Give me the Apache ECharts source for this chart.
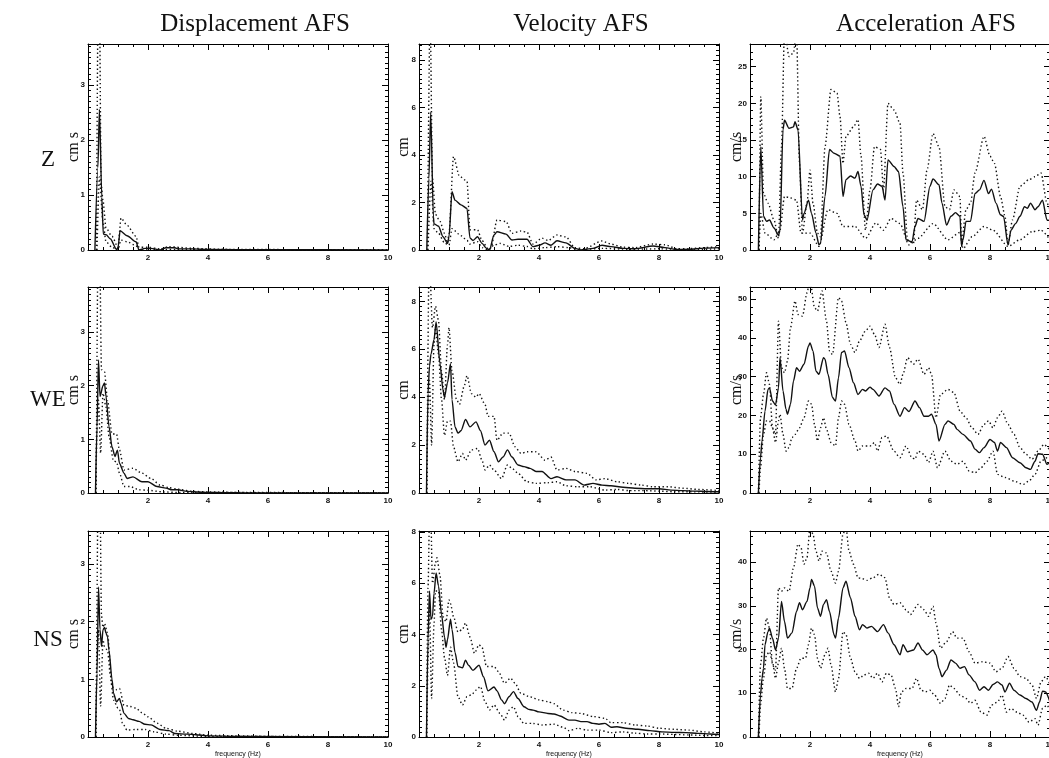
<!DOCTYPE html>
<html>
<head>
<meta charset="utf-8">
<title>AFS</title>
<script src="https://cdn.jsdelivr.net/npm/echarts@6.0.0/dist/echarts.min.js"></script>
<style>
  html, body { margin: 0; padding: 0; background: #fff; }
  #main { width: 1049px; height: 758px; }
</style>
</head>
<body>
<div id="main"></div>
<script>
// ---- data: [frequency (Hz), amplitude] ----
var dispZ_mean = [[0.23,0],[0.33,1.5],[0.38,2.56],[0.46,0.96],[0.51,0.29],[0.6,0.28],[0.75,0.2],[0.95,0.01],[1.0,0.04],[1.07,0.35],[1.3,0.26],[1.6,0.15],[1.7,0],[1.9,0.03],[2.1,0.03],[2.4,0],[2.6,0.04],[2.9,0.04],[3.0,0.02],[3.5,0.02],[4,0.01],[6,0.005],[10,0]];
var dispZ_up = [[0.28,0],[0.36,6],[0.44,1.2],[0.5,0.9],[0.6,0.4],[0.8,0.25],[1.0,0.05],[1.1,0.58],[1.3,0.45],[1.6,0.25],[1.7,0.05],[2.0,0.05],[2.4,0.02],[2.7,0.06],[3.5,0.03],[4.5,0.01],[10,0]];
var dispZ_lo = [[0.3,0],[0.38,1.33],[0.5,0.5],[0.6,0.15],[0.8,0.05],[1.0,0],[1.1,0.18],[1.3,0.15],[1.6,0.08],[1.7,0],[2.0,0.01],[10,0]];

var velZ_mean = [[0.26,0],[0.33,3],[0.39,5.8],[0.48,1.4],[0.5,1.1],[0.65,1.0],[0.8,0.56],[0.95,0.28],[1.0,0.56],[1.1,2.45],[1.2,2.1],[1.4,1.9],[1.6,1.75],[1.7,0.5],[1.8,0.4],[1.95,0.56],[2.1,0.28],[2.25,0.07],[2.35,0],[2.5,0.63],[2.6,0.77],[2.9,0.67],[3.1,0.42],[3.3,0.45],[3.6,0.45],[3.8,0.14],[4.0,0.2],[4.2,0.3],[4.4,0.2],[4.6,0.39],[4.9,0.3],[5.2,0.07],[5.4,0],[5.8,0.07],[6.1,0.2],[6.4,0.14],[6.8,0.07],[7.2,0.05],[7.8,0.17],[8.2,0.1],[8.6,0.02],[9.0,0.03],[9.5,0.08],[10,0.1]];
var velZ_up = [[0.28,0],[0.37,10],[0.45,3],[0.55,1.5],[0.7,1.2],[0.85,0.7],[0.95,0.3],[1.0,0.7],[1.15,3.93],[1.35,3.1],[1.6,2.9],[1.7,0.85],[1.95,0.85],[2.1,0.4],[2.3,0.05],[2.4,0.1],[2.6,1.26],[2.9,1.2],[3.1,0.7],[3.4,0.8],[3.6,0.75],[3.8,0.25],[4.1,0.5],[4.3,0.4],[4.6,0.63],[4.9,0.55],[5.2,0.1],[5.5,0.05],[6.1,0.38],[6.4,0.25],[6.8,0.12],[7.2,0.1],[7.8,0.25],[8.2,0.22],[8.6,0.05],[9.0,0.06],[9.5,0.1],[10,0.14]];
var velZ_lo = [[0.3,0],[0.4,2.9],[0.5,0.9],[0.65,0.7],[0.85,0.3],[1.0,0.2],[1.1,0.9],[1.4,0.6],[1.6,0.4],[1.7,0.25],[1.95,0.35],[2.1,0.1],[2.3,0],[2.5,0.2],[2.7,0.28],[3.0,0.15],[3.3,0.2],[3.6,0.15],[3.8,0.05],[4.2,0.1],[4.6,0.14],[5.0,0.1],[5.3,0],[6.1,0.07],[7,0.03],[8,0.05],[9,0.01],[10,0.05]];

var accZ_mean = [[0.28,0],[0.36,14.1],[0.45,4.6],[0.55,3.9],[0.65,4.1],[0.8,3.0],[0.95,2.0],[1.0,2.7],[1.1,16.4],[1.15,17.7],[1.3,16.6],[1.45,16.8],[1.5,17.5],[1.6,16.4],[1.75,4.1],[1.8,5.0],[1.95,6.8],[2.05,5.0],[2.2,2.3],[2.3,0.7],[2.35,0.9],[2.5,7.3],[2.65,13.7],[2.8,13.2],[3.0,12.8],[3.1,7.3],[3.2,9.6],[3.35,10.1],[3.5,9.8],[3.6,10.7],[3.7,8.7],[3.8,4.8],[3.9,4.1],[4.1,8.2],[4.25,9.0],[4.4,8.7],[4.5,6.8],[4.6,12.3],[4.8,11.4],[4.95,10.7],[5.1,5.9],[5.2,1.4],[5.4,1.1],[5.5,3.2],[5.6,4.3],[5.8,3.9],[6.0,8.7],[6.1,9.7],[6.3,8.9],[6.4,6.4],[6.55,3.4],[6.7,4.6],[6.85,5.1],[7.0,4.6],[7.05,0.5],[7.1,1.4],[7.2,3.9],[7.35,3.9],[7.5,7.7],[7.65,8.2],[7.8,9.5],[7.95,7.7],[8.05,8.3],[8.2,6.4],[8.35,4.8],[8.45,4.6],[8.6,0.7],[8.7,2.7],[8.85,3.6],[9.0,4.6],[9.15,5.9],[9.25,5.7],[9.35,6.4],[9.5,5.5],[9.6,5.9],[9.75,6.8],[9.9,4.1],[10,4.0]];
var accZ_up = [[0.3,0],[0.36,20.9],[0.45,7.7],[0.6,6.4],[0.8,4.1],[0.95,1.6],[1.05,14.1],[1.15,30],[1.3,26.4],[1.45,26.9],[1.55,30],[1.65,11.8],[1.75,2.3],[1.9,6.4],[2.0,10.9],[2.1,6.4],[2.25,2.3],[2.35,1.8],[2.5,14.1],[2.7,21.9],[2.9,21.4],[3.0,18.2],[3.1,11.8],[3.2,15.5],[3.45,16.8],[3.6,17.8],[3.7,12.8],[3.85,2.7],[4.0,8.2],[4.15,14.1],[4.35,13.7],[4.45,8.2],[4.6,20.0],[4.8,19.1],[5.0,17.3],[5.1,10.5],[5.25,1.4],[5.45,0.9],[5.55,6.8],[5.75,5.5],[5.9,10.9],[6.1,15.9],[6.3,14.1],[6.5,5.9],[6.65,5.5],[6.8,8.2],[7.0,7.3],[7.05,0.9],[7.2,5.5],[7.35,6.4],[7.5,10.5],[7.8,15.5],[8.0,12.8],[8.15,11.8],[8.35,7.3],[8.5,4.6],[8.6,0.7],[8.75,4.1],[9.0,8.7],[9.3,9.6],[9.5,10.0],[9.7,10.5],[9.9,6.4],[10,5.5]];
var accZ_lo = [[0.3,0],[0.36,5.0],[0.5,2.3],[0.8,1.4],[1.0,2.7],[1.15,7.3],[1.35,7.1],[1.55,6.8],[1.7,2.3],[2.0,2.3],[2.3,0.5],[2.6,5.5],[2.9,5.0],[3.1,3.2],[3.5,3.2],[3.85,1.6],[4.2,3.7],[4.45,2.7],[4.7,4.3],[5.0,3.6],[5.3,0.7],[5.6,1.6],[6.1,3.6],[6.6,1.4],[7.0,2.4],[7.1,0.2],[7.4,1.8],[7.8,3.2],[8.1,2.7],[8.6,0.5],[9.0,1.4],[9.4,2.5],[9.7,2.7],[10,1.4]];

var dispWE_mean = [[0.25,0],[0.3,1.24],[0.35,2.48],[0.4,1.8],[0.5,2.0],[0.55,2.05],[0.6,1.8],[0.7,1.24],[0.8,0.86],[0.9,0.68],[0.98,0.8],[1.05,0.55],[1.2,0.37],[1.3,0.27],[1.5,0.3],[1.8,0.21],[2.0,0.21],[2.3,0.12],[2.6,0.09],[2.8,0.06],[3.0,0.06],[3.3,0.03],[3.6,0.02],[4,0.01],[5,0.005],[10,0]];
var dispWE_up = [[0.27,0],[0.36,6],[0.45,2.3],[0.55,2.26],[0.65,1.73],[0.8,1.1],[0.95,1.1],[1.05,0.8],[1.2,0.43],[1.5,0.46],[1.8,0.37],[2.1,0.27],[2.4,0.15],[2.7,0.1],[3.0,0.07],[3.5,0.03],[4,0.02],[5,0.01],[10,0]];
var dispWE_lo = [[0.26,0],[0.3,1.2],[0.35,1.73],[0.42,0.74],[0.5,1.86],[0.6,1.6],[0.7,1.05],[0.85,0.6],[0.95,0.58],[1.05,0.37],[1.2,0.12],[1.4,0.12],[1.7,0.06],[2.0,0.05],[2.5,0.02],[3,0.01],[10,0]];

var velWE_mean = [[0.25,0],[0.3,4.15],[0.35,5.3],[0.4,5.8],[0.5,6.4],[0.57,7.14],[0.7,5.4],[0.8,4.3],[0.85,4.0],[0.95,4.6],[1.05,5.4],[1.1,3.9],[1.2,2.76],[1.3,2.5],[1.4,2.6],[1.55,3.07],[1.7,2.76],[1.9,2.97],[2.05,2.6],[2.2,2.0],[2.35,2.2],[2.5,1.72],[2.65,1.3],[2.8,1.5],[2.95,1.8],[3.1,1.5],[3.3,1.17],[3.5,1.1],[3.7,1.03],[3.9,0.9],[4.1,0.9],[4.4,0.6],[4.6,0.68],[4.9,0.55],[5.2,0.55],[5.5,0.33],[5.8,0.4],[6.1,0.33],[6.4,0.3],[6.8,0.24],[7.2,0.2],[7.6,0.18],[8.0,0.18],[8.4,0.12],[8.8,0.1],[9.2,0.08],[9.6,0.06],[10,0.05]];
var velWE_up = [[0.26,0],[0.34,10],[0.45,6.9],[0.55,7.8],[0.65,7.2],[0.75,5.1],[0.85,3.9],[0.95,6.2],[1.0,6.9],[1.1,5.1],[1.25,3.9],[1.35,3.7],[1.5,4.43],[1.6,4.9],[1.75,4.15],[1.9,4.0],[2.0,4.15],[2.2,3.7],[2.3,3.2],[2.5,3.2],[2.6,2.2],[2.8,2.5],[3.0,2.5],[3.2,1.93],[3.4,1.65],[3.6,1.72],[3.9,1.72],[4.2,1.37],[4.4,1.5],[4.6,0.96],[4.9,1.03],[5.2,0.9],[5.6,0.82],[5.9,0.55],[6.2,0.6],[6.6,0.47],[7.0,0.4],[7.4,0.33],[7.8,0.26],[8.3,0.26],[8.8,0.2],[9.3,0.15],[10,0.1]];
var velWE_lo = [[0.26,0],[0.3,3.5],[0.35,4.7],[0.42,2.0],[0.5,6.2],[0.55,6.9],[0.65,5.8],[0.75,3.9],[0.85,2.4],[0.95,3.0],[1.05,3.0],[1.15,1.93],[1.3,1.3],[1.45,1.65],[1.55,1.37],[1.75,1.8],[1.95,1.86],[2.1,1.37],[2.2,0.96],[2.35,1.17],[2.5,0.96],[2.75,0.6],[2.95,1.17],[3.1,1.03],[3.3,0.82],[3.6,0.47],[3.9,0.4],[4.3,0.43],[4.6,0.47],[4.9,0.3],[5.3,0.26],[5.7,0.26],[6.2,0.12],[6.6,0.15],[7.0,0.1],[7.5,0.1],[8.0,0.08],[8.5,0.05],[9,0.05],[10,0.03]];

var accWE_mean = [[0.28,0],[0.35,9.1],[0.4,13.4],[0.5,21.1],[0.6,26.7],[0.65,27.1],[0.75,23.7],[0.85,22.7],[0.95,27.1],[1.0,34.9],[1.1,26.3],[1.2,21.6],[1.25,20.3],[1.35,22.9],[1.45,28.9],[1.55,32.3],[1.65,31.4],[1.8,33.2],[1.95,37.9],[2.0,38.7],[2.1,36.6],[2.2,31.4],[2.3,30.6],[2.45,34.9],[2.5,34.5],[2.6,30.6],[2.75,24.6],[2.85,23.7],[2.95,29.7],[3.05,36.2],[3.15,36.6],[3.3,32.3],[3.45,28.4],[3.6,25.4],[3.75,26.7],[3.85,26.3],[4.0,27.3],[4.1,26.7],[4.3,25.0],[4.5,27.1],[4.65,26.3],[4.8,22.9],[5.0,19.8],[5.15,22.0],[5.3,21.0],[5.5,23.7],[5.65,22.0],[5.8,19.8],[5.95,19.8],[6.05,20.3],[6.2,17.7],[6.3,13.4],[6.5,17.7],[6.6,18.6],[6.8,17.7],[6.9,16.4],[7.1,15.1],[7.35,13.4],[7.5,11.3],[7.65,10.4],[7.8,11.7],[8.0,13.8],[8.15,13.0],[8.25,10.8],[8.35,13.0],[8.55,11.7],[8.75,9.1],[9.0,7.8],[9.2,6.5],[9.35,6.1],[9.5,8.2],[9.6,10.1],[9.75,10.0],[9.9,7.4],[10,8.0]];
var accWE_up = [[0.28,0],[0.35,19.4],[0.45,25.4],[0.55,31.0],[0.65,28.0],[0.75,16.8],[0.85,15.1],[0.95,44.3],[1.05,32.3],[1.15,31.0],[1.25,34.0],[1.35,42.6],[1.5,49.5],[1.6,46.0],[1.75,45.6],[1.9,51.6],[2.0,55],[2.15,47.8],[2.25,46.9],[2.4,52.1],[2.55,44.3],[2.65,36.6],[2.75,35.7],[2.95,50.4],[3.05,49.5],[3.2,43.9],[3.35,38.3],[3.5,36.2],[3.65,39.2],[3.85,41.8],[4.0,43.0],[4.15,40.9],[4.3,37.5],[4.5,43.5],[4.65,37.5],[4.85,29.7],[5.0,28.0],[5.1,30.6],[5.25,34.9],[5.45,33.2],[5.6,34.5],[5.8,30.6],[5.95,32.3],[6.05,30.6],[6.2,19.4],[6.35,25.4],[6.6,26.7],[6.8,25.9],[7.0,21.1],[7.2,19.4],[7.4,16.8],[7.6,15.1],[7.8,17.7],[7.95,18.6],[8.1,16.8],[8.25,19.4],[8.4,21.1],[8.6,17.7],[8.8,15.1],[9.0,11.7],[9.2,10.0],[9.4,8.7],[9.6,10.8],[9.8,12.5],[10,11.0]];
var accWE_lo = [[0.3,0],[0.35,6.5],[0.45,15.1],[0.55,18.6],[0.65,18.6],[0.75,16.8],[0.85,13.0],[0.95,18.6],[1.0,20.3],[1.1,15.1],[1.2,10.8],[1.3,11.7],[1.4,14.3],[1.5,15.1],[1.65,16.8],[1.8,19.4],[1.95,23.7],[2.05,22.9],[2.15,17.7],[2.25,13.4],[2.35,16.8],[2.45,19.4],[2.55,16.4],[2.7,13.0],[2.85,12.1],[2.95,19.4],[3.05,23.7],[3.15,22.9],[3.3,17.7],[3.5,13.4],[3.6,10.8],[3.75,12.1],[4.0,12.1],[4.15,13.0],[4.25,10.8],[4.4,14.3],[4.55,14.7],[4.8,10.8],[5.0,9.1],[5.2,12.1],[5.4,9.1],[5.5,8.7],[5.6,10.8],[5.8,10.0],[5.95,7.8],[6.1,10.8],[6.25,6.5],[6.5,10.8],[6.7,8.2],[6.9,7.4],[7.1,8.2],[7.3,5.7],[7.5,5.2],[7.7,6.5],[7.9,8.2],[8.1,10.8],[8.25,4.8],[8.5,4.0],[8.8,3.1],[9.1,2.2],[9.3,3.1],[9.5,4.8],[9.7,8.2],[9.9,9.1],[10,9.0]];

var dispNS_mean = [[0.25,0],[0.3,1.1],[0.35,2.6],[0.4,1.86],[0.45,1.57],[0.5,1.86],[0.55,1.9],[0.6,1.8],[0.65,1.74],[0.7,1.5],[0.8,1.0],[0.85,0.76],[0.95,0.61],[1.05,0.67],[1.1,0.58],[1.2,0.41],[1.35,0.32],[1.5,0.3],[1.7,0.27],[1.9,0.22],[2.1,0.21],[2.4,0.13],[2.7,0.11],[2.9,0.06],[3.3,0.05],[3.6,0.04],[4,0.02],[5,0.01],[10,0]];
var dispNS_up = [[0.27,0],[0.37,6],[0.45,2.1],[0.5,1.9],[0.55,1.97],[0.65,1.8],[0.8,0.87],[0.95,0.82],[1.05,0.84],[1.2,0.55],[1.4,0.53],[1.6,0.5],[1.8,0.42],[2.0,0.35],[2.3,0.24],[2.6,0.15],[3.0,0.1],[3.5,0.06],[4,0.03],[5,0.02],[6,0.01],[10,0]];
var dispNS_lo = [[0.26,0],[0.3,1.4],[0.35,1.86],[0.42,0.53],[0.5,1.68],[0.55,1.57],[0.65,1.5],[0.75,1.05],[0.85,0.64],[1.0,0.5],[1.05,0.47],[1.15,0.24],[1.3,0.12],[1.6,0.13],[1.9,0.13],[2.2,0.09],[2.6,0.05],[3,0.03],[4,0.01],[10,0]];

var velNS_mean = [[0.25,0],[0.3,3.8],[0.35,5.7],[0.4,4.6],[0.45,4.7],[0.5,5.6],[0.57,6.4],[0.65,5.9],[0.75,4.8],[0.85,3.9],[0.9,3.5],[0.95,3.8],[1.05,4.6],[1.1,4.2],[1.2,3.3],[1.3,2.75],[1.45,2.7],[1.55,3.0],[1.65,2.8],[1.8,2.6],[2.0,2.8],[2.15,2.35],[2.3,1.8],[2.5,1.95],[2.6,1.8],[2.75,1.45],[2.85,1.3],[3.0,1.57],[3.15,1.77],[3.3,1.5],[3.5,1.18],[3.65,1.08],[3.8,1.05],[4.0,0.98],[4.3,0.92],[4.5,0.9],[4.7,0.82],[5.0,0.66],[5.2,0.66],[5.4,0.6],[5.6,0.6],[5.8,0.53],[6.0,0.5],[6.2,0.53],[6.4,0.38],[6.6,0.4],[6.9,0.34],[7.3,0.3],[7.7,0.25],[8.1,0.2],[8.5,0.18],[8.9,0.17],[9.3,0.14],[9.7,0.12],[10,0.1]];
var velNS_up = [[0.25,0],[0.3,5.8],[0.37,10],[0.45,6.0],[0.55,6.8],[0.6,7.0],[0.7,6.3],[0.8,4.7],[0.9,4.5],[1.0,5.35],[1.05,5.2],[1.15,4.7],[1.3,4.1],[1.45,4.2],[1.55,4.45],[1.7,3.9],[1.85,3.27],[2.0,3.6],[2.1,3.5],[2.25,2.75],[2.5,2.75],[2.65,2.55],[2.85,2.1],[3.05,2.3],[3.2,2.1],[3.4,1.7],[3.7,1.57],[4.0,1.45],[4.3,1.38],[4.5,1.3],[4.8,1.05],[5.1,0.95],[5.4,0.92],[5.8,0.8],[6.2,0.73],[6.4,0.56],[6.8,0.56],[7.2,0.47],[7.6,0.43],[8.0,0.34],[8.5,0.3],[9.0,0.27],[9.5,0.2],[10,0.15]];
var velNS_lo = [[0.26,0],[0.3,3.0],[0.35,5.2],[0.42,1.5],[0.5,4.4],[0.55,5.7],[0.65,5.7],[0.75,4.2],[0.85,3.1],[0.95,2.4],[1.05,3.5],[1.15,2.9],[1.3,1.57],[1.45,1.25],[1.6,1.57],[1.75,1.65],[1.9,1.83],[2.05,1.97],[2.2,1.38],[2.35,1.05],[2.5,1.25],[2.7,0.92],[2.85,0.66],[3.0,1.05],[3.15,1.18],[3.3,0.8],[3.5,0.53],[3.8,0.53],[4.1,0.47],[4.5,0.5],[4.8,0.38],[5.0,0.25],[5.3,0.34],[5.6,0.27],[6.0,0.27],[6.4,0.17],[6.8,0.2],[7.2,0.15],[7.6,0.12],[8.0,0.12],[8.5,0.1],[9,0.08],[9.5,0.06],[10,0.05]];

var accNS_mean = [[0.28,0],[0.35,9.6],[0.4,13.4],[0.45,15.7],[0.5,21.1],[0.6,24.1],[0.65,24.9],[0.75,22.6],[0.85,19.9],[0.95,22.6],[1.05,31.0],[1.15,26.4],[1.25,22.6],[1.4,23.8],[1.55,28.7],[1.65,30.7],[1.75,29.1],[1.9,31.0],[2.0,34.1],[2.05,36.0],[2.15,34.5],[2.25,29.5],[2.35,27.6],[2.45,30.3],[2.55,31.4],[2.65,28.7],[2.8,23.4],[2.85,22.6],[2.95,27.2],[3.1,34.1],[3.2,35.6],[3.35,31.8],[3.5,27.6],[3.65,24.5],[3.75,25.7],[3.9,24.9],[4.05,25.3],[4.25,24.1],[4.45,25.7],[4.6,23.8],[4.8,21.1],[5.0,18.8],[5.1,21.1],[5.25,19.5],[5.45,19.9],[5.6,21.5],[5.75,19.9],[5.9,18.8],[6.1,19.9],[6.2,18.8],[6.3,15.7],[6.4,13.8],[6.55,15.3],[6.7,17.6],[6.85,16.9],[7.0,15.7],[7.15,16.1],[7.3,14.2],[7.5,12.6],[7.65,10.7],[7.8,11.5],[7.95,10.7],[8.1,12.0],[8.25,12.6],[8.4,11.9],[8.5,10.3],[8.65,12.3],[8.8,10.7],[9.0,9.6],[9.2,8.8],[9.4,8.0],[9.55,6.1],[9.65,8.0],[9.75,10.5],[9.85,10.3],[10,8.0]];
var accNS_up = [[0.28,0],[0.35,16.5],[0.45,22.6],[0.55,27.2],[0.65,24.9],[0.75,16.5],[0.85,15.3],[0.95,34.1],[1.05,33.3],[1.15,34.1],[1.3,33.3],[1.45,38.7],[1.6,44.1],[1.7,43.3],[1.8,39.5],[1.9,41.0],[2.0,48],[2.1,46.4],[2.2,42.5],[2.3,40.2],[2.4,42.5],[2.55,42.1],[2.7,37.9],[2.85,35.2],[2.95,37.9],[3.1,46.4],[3.2,48],[3.3,42.5],[3.45,39.5],[3.6,36.4],[3.75,36.2],[3.9,35.8],[4.1,36.4],[4.3,37.2],[4.5,36.4],[4.65,31.8],[4.8,30.3],[5.0,30.7],[5.2,29.1],[5.35,28.0],[5.6,30.3],[5.8,29.1],[5.95,27.6],[6.1,29.9],[6.2,26.1],[6.35,20.3],[6.55,21.8],[6.75,24.1],[6.9,22.6],[7.1,22.6],[7.3,19.5],[7.5,16.9],[7.75,17.2],[8.0,16.9],[8.2,14.9],[8.4,15.7],[8.6,18.4],[8.8,15.7],[9.0,13.8],[9.2,13.4],[9.4,11.9],[9.55,8.8],[9.7,12.6],[9.85,13.8],[10,12.0]];
var accNS_lo = [[0.3,0],[0.35,7.3],[0.45,13.4],[0.55,18.8],[0.65,19.5],[0.75,17.2],[0.85,13.4],[0.95,16.9],[1.05,20.3],[1.15,15.7],[1.25,11.1],[1.4,11.1],[1.55,15.7],[1.7,18.0],[1.85,18.0],[1.95,21.1],[2.05,24.9],[2.15,23.4],[2.25,18.0],[2.35,15.7],[2.5,18.8],[2.6,20.3],[2.7,16.5],[2.85,10.3],[2.95,13.4],[3.1,24.1],[3.2,23.4],[3.35,18.0],[3.5,14.9],[3.65,13.4],[3.8,14.2],[3.95,14.6],[4.1,13.4],[4.25,14.6],[4.4,12.6],[4.55,14.6],[4.7,14.2],[4.85,11.1],[4.95,6.9],[5.05,10.3],[5.2,11.1],[5.4,11.1],[5.55,13.4],[5.7,10.7],[5.85,10.3],[6.0,10.7],[6.15,9.6],[6.35,7.7],[6.5,8.8],[6.65,11.9],[6.8,11.1],[7.0,9.6],[7.2,8.8],[7.35,7.7],[7.5,8.4],[7.7,5.7],[7.9,5.0],[8.05,7.3],[8.25,8.0],[8.4,9.6],[8.55,5.7],[8.7,6.5],[8.9,5.7],[9.1,5.0],[9.3,3.4],[9.5,4.2],[9.6,2.7],[9.75,6.5],[9.9,7.3],[10,6.0]];

// axis ranges / tick steps, row by row (Z, WE, NS) and column (disp, vel, acc)
var colTitles = ['Displacement AFS', 'Velocity AFS', 'Acceleration AFS'];
var rowTitles = ['Z', 'WE', 'NS'];
var yNames = ['cm s', 'cm', 'cm/s'];
var yMaxes = [3.75, 8.67, 28.1, 3.84, 8.6, 53.1, 3.57, 8.04, 47.1];
var ySteps = [1, 2, 5, 1, 2, 10, 1, 2, 10];
var yMinorSplit = [10, 10, 5, 10, 10, 5, 10, 10, 5];
var freqMax = 10, freqStep = 2;

var panels = [
    [dispZ_mean, dispZ_up, dispZ_lo], [velZ_mean, velZ_up, velZ_lo], [accZ_mean, accZ_up, accZ_lo],
    [dispWE_mean, dispWE_up, dispWE_lo], [velWE_mean, velWE_up, velWE_lo], [accWE_mean, accWE_up, accWE_lo],
    [dispNS_mean, dispNS_up, dispNS_lo], [velNS_mean, velNS_up, velNS_lo], [accNS_mean, accNS_up, accNS_lo]
];

// layout (px)
var colLeft = [88, 419, 750];
var rowTop = [44, 287, 531];
var boxW = 300, boxH = 206;
var yNameGap = [6, 7, 5];

var myChart = echarts.init(document.getElementById('main'), null, {renderer: 'canvas'});

var tickFont = {fontSize: 8, fontWeight: 'bold', color: '#111', fontFamily: 'Liberation Sans, Arial, sans-serif'};
var black = {color: '#000', width: 1};

var grids = [], xAxes = [], yAxes = [], series = [];

panels.forEach(function (p, i) {
    var r = Math.floor(i / 3), c = i % 3;
    // outerBoundsMode none: keep the box where it is even if a label runs off the page
    grids.push({left: colLeft[c], top: rowTop[r], width: boxW, height: boxH, outerBoundsMode: 'none'});

    var xBase = {
        type: 'value', gridIndex: i, min: 0, max: freqMax, interval: freqStep,
        axisLine: {show: true, onZero: false, lineStyle: black},
        axisTick: {show: true, inside: true, length: 6, lineStyle: black},
        minorTick: {show: true, inside: true, splitNumber: 4, length: 3, lineStyle: black},
        splitLine: {show: false}
    };
    // bottom axis with labels
    xAxes.push(Object.assign({}, xBase, {
        position: 'bottom',
        axisLabel: Object.assign({margin: 4, formatter: function (v) { return v === 0 ? '' : v; }}, tickFont),
        name: r === 2 ? 'frequency (Hz)' : '',
        nameLocation: 'middle', nameGap: 14, nameMoveOverlap: false,
        nameTextStyle: {fontSize: 7, color: '#111', fontFamily: 'Liberation Sans, Arial, sans-serif'}
    }));
    // top axis (box), ticks only
    xAxes.push(Object.assign({}, xBase, {position: 'top', axisLabel: {show: false}}));

    var step = ySteps[i];
    var yBase = {
        type: 'value', gridIndex: i, min: 0, max: yMaxes[i], interval: step,
        axisLine: {show: true, onZero: false, lineStyle: black},
        axisTick: {show: true, inside: true, length: 6, lineStyle: black},
        minorTick: {show: true, inside: true, splitNumber: yMinorSplit[i], length: 3, lineStyle: black},
        splitLine: {show: false}
    };
    yAxes.push(Object.assign({}, yBase, {
        position: 'left',
        axisLabel: Object.assign({margin: 3, formatter: function (v) {
            var k = v / step;
            return Math.abs(k - Math.round(k)) < 1e-6 ? String(Math.round(v)) : '';
        }}, tickFont),
        name: yNames[c], nameLocation: 'middle', nameRotate: 90, nameGap: yNameGap[c],
        nameMoveOverlap: false,
        nameTextStyle: {fontSize: 16, color: '#111', fontFamily: 'Liberation Serif, Times New Roman, serif'}
    }));
    yAxes.push(Object.assign({}, yBase, {position: 'right', axisLabel: {show: false}}));

    // mean = solid, upper/lower = dotted
    p.forEach(function (d, k) {
        series.push({
            type: 'line',
            xAxisIndex: 2 * i,
            yAxisIndex: 2 * i,
            data: d,
            showSymbol: false,
            smooth: 0.25,
            smoothMonotone: 'x',
            clip: true,
            animation: false,
            lineStyle: k === 0
                ? {color: '#111', width: 1.4, type: 'solid'}
                : {color: '#111', width: 1.4, type: [1.4, 2.6]}
        });
    });
});

// column and row headings
var headings = [];
var colTitleX = [255, 581, 926];
colTitles.forEach(function (t, c) {
    headings.push({type: 'text', x: colTitleX[c], y: 24,
        style: {text: t, font: '25px "Liberation Serif", "Times New Roman", serif', fill: '#111', align: 'center', verticalAlign: 'middle'}});
});
var rowTitleY = [160, 400, 640];
rowTitles.forEach(function (t, r) {
    headings.push({type: 'text', x: 48, y: rowTitleY[r],
        style: {text: t, font: '23px "Liberation Serif", "Times New Roman", serif', fill: '#111', align: 'center', verticalAlign: 'middle'}});
});

option = {
    backgroundColor: '#fff',
    animation: false,
    grid: grids,
    xAxis: xAxes,
    yAxis: yAxes,
    series: series,
    graphic: headings
};
myChart.setOption(option);
</script>
</body>
</html>
